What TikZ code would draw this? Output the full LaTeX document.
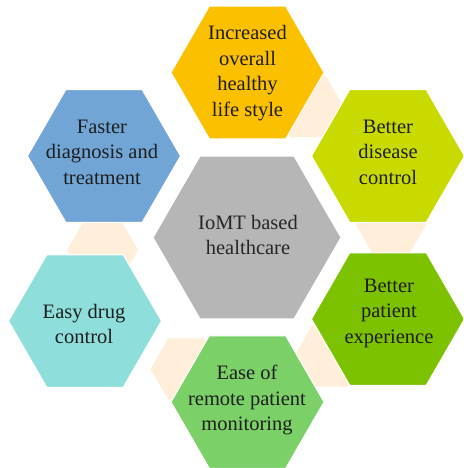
\documentclass[tikz,border=0pt]{standalone}
\usepackage{fontspec}
\setmainfont{Liberation Serif}
\usepackage{tikz}
\usetikzlibrary{shapes.geometric}
\definecolor{hexGold}{HTML}{FBC000}
\definecolor{hexLime}{HTML}{C8DA00}
\definecolor{hexGreen}{HTML}{7CC200}
\definecolor{hexMint}{HTML}{7BD168}
\definecolor{hexAqua}{HTML}{8EDFDB}
\definecolor{hexBlue}{HTML}{71A5D6}
\definecolor{hexGray}{HTML}{B6B6B6}
\definecolor{hexPeach}{HTML}{FEEEDA}
\definecolor{hexInk}{HTML}{1E1E1E}

\begin{document}
\begin{tikzpicture}[line cap=round,line join=round,x=1pt,y=-1pt,
  hexa/.style={regular polygon,regular polygon sides=6,inner sep=0pt,minimum size=153pt,draw=white,line width=1pt},
  joint/.style={regular polygon,regular polygon sides=6,inner sep=0pt,minimum size=71pt,fill=hexPeach},
  txt/.style={align=center,text=hexInk,inner sep=0pt,font=\fontsize{20.5}{25.5}\selectfont}]
\useasboundingbox (0,0) rectangle (463,468);
\clip (0,0) rectangle (463,468);
% small hexagons behind the ring
\node[joint] (j1) at (308,106.5) {};
\node[joint] (j2) at (391,224) {};
\node[joint] (j3) at (330,356) {};
\node[joint] (j4) at (186,369) {};
\node[joint] (j5) at (102.6,250) {};
% the ring
\node[hexa,fill=hexGold] (life) at (247.5,72.5) {};
\node[hexa,fill=hexLime] (disease) at (388,156) {};
\node[hexa,fill=hexGreen] (patient) at (388,319) {};
\node[hexa,fill=hexMint] (remote) at (247.5,402) {};
\node[hexa,fill=hexAqua] (drug) at (85,321) {};
\node[hexa,fill=hexBlue] (faster) at (104,156) {};
\node[hexa,fill=hexGray,minimum size=188pt] (iomt) at (247,237.5) {};
% texts
\node[txt] (life-t) at (247.5,73) {Increased\\overall\\healthy\\life style};
\node[txt] (disease-t) at (388,152) {Better\\disease\\control};
\node[txt] (patient-t) at (389,313) {Better\\patient\\experience};
\node[txt] (remote-t) at (247,400) {Ease of\\remote patient\\monitoring};
\node[txt] (drug-t) at (84,324) {Easy drug\\control};
\node[txt] (faster-t) at (102,152) {Faster\\diagnosis and\\treatment};
\node[txt,text=black!85] (iomt-t) at (248,235) {IoMT based\\healthcare};
\end{tikzpicture}
\end{document}
